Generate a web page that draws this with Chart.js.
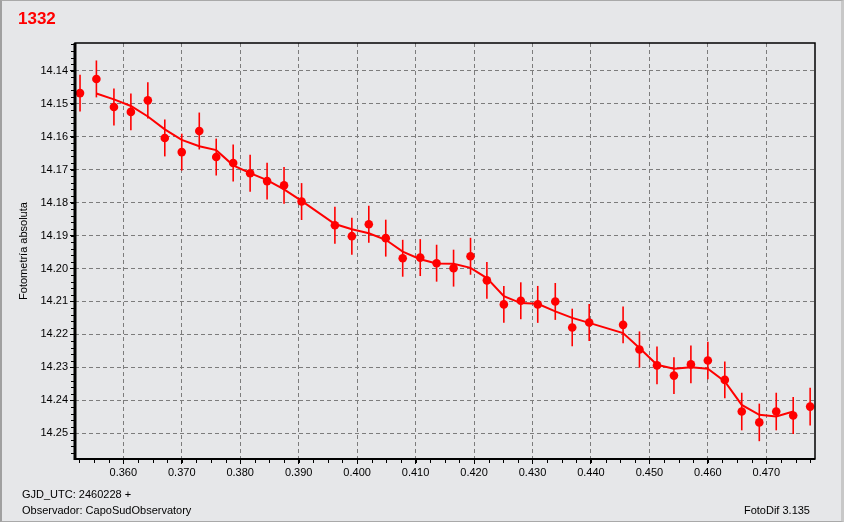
<!DOCTYPE html>
<html>
<head>
<meta charset="utf-8">
<script src="https://cdn.jsdelivr.net/npm/chart.js@4/dist/chart.umd.min.js"></script>
<style>
  html, body { margin: 0; padding: 0; background: #e6e7e9; }
  #wrap { position: relative; width: 844px; height: 522px; overflow: hidden; font-family: "Liberation Sans", Arial, sans-serif; }
  #chart { position: absolute; left: 0; top: 0; }
  #frame { position: absolute; left: 0; top: 0; width: 844px; height: 522px; box-sizing: border-box;
           border: 1px solid #a9a9a9; border-left: 2px solid #a0a0a0; border-right: 3px solid #c8c8c8; pointer-events: none; }
  .txt { position: absolute; font-size: 11px; color: #000; white-space: nowrap; line-height: 13px; }
  #title { position: absolute; left: 18px; top: 9px; font: bold 17px "Liberation Sans", Arial, sans-serif; color: #ff0000; }
</style>
</head>
<body>
<div id="wrap">
  <canvas id="chart" width="844" height="522"></canvas>
  <div id="frame"></div>
  <div id="title">1332</div>
  <div class="txt" style="left:22px; top:488px;">GJD_UTC: 2460228 +</div>
  <div class="txt" style="left:22px; top:504px;">Observador: CapoSudObservatory</div>
  <div class="txt" style="right:34px; top:504px;">FotoDif 3.135</div>
</div>
<script>
// observations (GJD - 2460228, magnitude, error)
const obsTime = [0.3526, 0.3554, 0.3584, 0.3613, 0.3642, 0.3671, 0.3700, 0.3730, 0.3759, 0.3788,
                 0.3817, 0.3846, 0.3875, 0.3905, 0.3962, 0.3991, 0.4020, 0.4049, 0.4078, 0.4108,
                 0.4136, 0.4165, 0.4194, 0.4222, 0.4251, 0.4280, 0.4309, 0.4339, 0.4368, 0.4397,
                 0.4455, 0.4483, 0.4513, 0.4542, 0.4571, 0.4600, 0.4629, 0.4658, 0.4688, 0.4717,
                 0.4746, 0.4775];
const obsMag = [14.1468, 14.1425, 14.1510, 14.1525, 14.1490, 14.1604, 14.1647, 14.1583, 14.1662, 14.1680,
                14.1711, 14.1735, 14.1748, 14.1797, 14.1869, 14.1902, 14.1866, 14.1908, 14.1969, 14.1967,
                14.1984, 14.1999, 14.1963, 14.2036, 14.2109, 14.2098, 14.2109, 14.2100, 14.2179, 14.2164,
                14.2171, 14.2246, 14.2294, 14.2325, 14.2291, 14.2279, 14.2338, 14.2434, 14.2467, 14.2434,
                14.2446, 14.2419];
const obsErr = [0.0056, 0.0056, 0.0056, 0.0056, 0.0055, 0.0056, 0.0056, 0.0056, 0.0056, 0.0056,
                0.0056, 0.0056, 0.0056, 0.0056, 0.0056, 0.0056, 0.0056, 0.0056, 0.0056, 0.0056,
                0.0056, 0.0056, 0.0056, 0.0056, 0.0056, 0.0056, 0.0056, 0.0056, 0.0057, 0.0056,
                0.0056, 0.0055, 0.0057, 0.0056, 0.0057, 0.0057, 0.0056, 0.0057, 0.0057, 0.0057,
                0.0056, 0.0057];

// smoothed fit curve
const fitTime = [0.3554, 0.3584, 0.3613, 0.3642, 0.3671, 0.3700, 0.3730, 0.3759, 0.3788, 0.3817,
                 0.3846, 0.3875, 0.3905, 0.3962, 0.3991, 0.4020, 0.4049, 0.4078, 0.4108, 0.4136,
                 0.4165, 0.4194, 0.4222, 0.4251, 0.4280, 0.4309, 0.4339, 0.4368, 0.4397, 0.4455,
                 0.4483, 0.4513, 0.4542, 0.4571, 0.4600, 0.4629, 0.4658, 0.4688, 0.4717, 0.4746];
const fitMag = [14.1469, 14.1487, 14.1507, 14.1539, 14.1578, 14.1610, 14.1629, 14.1641, 14.1687, 14.1711,
                14.1732, 14.1760, 14.1795, 14.1865, 14.1881, 14.1893, 14.1913, 14.1949, 14.1972, 14.1985,
                14.1986, 14.1998, 14.2029, 14.2084, 14.2105, 14.2107, 14.2130, 14.2150, 14.2165, 14.2196,
                14.2241, 14.2292, 14.2304, 14.2300, 14.2304, 14.2343, 14.2414, 14.2444, 14.2449, 14.2434];

// axes
const xTicks = [0.36, 0.37, 0.38, 0.39, 0.40, 0.41, 0.42, 0.43, 0.44, 0.45, 0.46, 0.47];
const xTickLabels = ['0.360', '0.370', '0.380', '0.390', '0.400', '0.410', '0.420', '0.430', '0.440', '0.450', '0.460', '0.470'];
const yTicks = [14.14, 14.15, 14.16, 14.17, 14.18, 14.19, 14.20, 14.21, 14.22, 14.23, 14.24, 14.25];
const yTickLabels = ['14.14', '14.15', '14.16', '14.17', '14.18', '14.19', '14.20', '14.21', '14.22', '14.23', '14.24', '14.25'];
const X_MIN = 0.35174, X_MAX = 0.47833;
const Y_MIN = 14.1316, Y_MAX = 14.2578;
const X_MINOR = 0.0025, Y_MINOR = 0.002;

const RED = '#ff0000';
const tickFont = { family: '"Liberation Sans", Arial, sans-serif', size: 11 };

// error bars under the markers
const errorBars = {
  id: 'errorBars',
  beforeDatasetsDraw(chart) {
    const { ctx, scales: { x, y } } = chart;
    ctx.save();
    ctx.strokeStyle = RED;
    ctx.lineWidth = 1.6;
    obsTime.forEach((t, i) => {
      const px = x.getPixelForValue(t);
      ctx.beginPath();
      ctx.moveTo(px, y.getPixelForValue(obsMag[i] - obsErr[i]));
      ctx.lineTo(px, y.getPixelForValue(obsMag[i] + obsErr[i]));
      ctx.stroke();
    });
    ctx.restore();
  }
};

// plot frame + minor ticks
const frame = {
  id: 'frame',
  afterDraw(chart) {
    const { ctx, chartArea: a, scales: { x, y } } = chart;
    ctx.save();
    ctx.strokeStyle = '#000';
    ctx.lineWidth = 1;
    // minor ticks
    ctx.beginPath();
    for (let v = Math.ceil(X_MIN / X_MINOR) * X_MINOR; v < X_MAX; v += X_MINOR) {
      const px = Math.round(x.getPixelForValue(v)) + 0.5;
      ctx.moveTo(px, a.bottom);
      ctx.lineTo(px, a.bottom + 4);
    }
    for (let v = Math.ceil(Y_MIN / Y_MINOR) * Y_MINOR; v < Y_MAX; v += Y_MINOR) {
      const py = Math.round(y.getPixelForValue(v)) + 0.5;
      ctx.moveTo(a.left - 4, py);
      ctx.lineTo(a.left, py);
    }
    ctx.stroke();
    ctx.lineWidth = 1.5;
    ctx.strokeRect(a.left, a.top, a.right - a.left, a.bottom - a.top);
    ctx.lineWidth = 3;
    ctx.beginPath();
    ctx.moveTo(a.left, a.top);
    ctx.lineTo(a.left, a.bottom + 1);
    ctx.stroke();
    ctx.lineWidth = 2;
    ctx.beginPath();
    ctx.moveTo(a.left, a.bottom);
    ctx.lineTo(a.right, a.bottom);
    ctx.stroke();
    ctx.restore();
  }
};

new Chart(document.getElementById('chart'), {
  data: {
    datasets: [
      {
        type: 'line',
        data: fitTime.map((t, i) => ({ x: t, y: fitMag[i] })),
        borderColor: RED,
        borderWidth: 2,
        pointRadius: 0,
        tension: 0,
        fill: false
      },
      {
        type: 'scatter',
        data: obsTime.map((t, i) => ({ x: t, y: obsMag[i] })),
        backgroundColor: RED,
        borderWidth: 0,
        pointRadius: 4.3
      }
    ]
  },
  options: {
    responsive: false,
    animation: false,
    events: [],
    layout: { padding: { left: 0, right: 29, top: 43, bottom: 0 } },
    plugins: { legend: { display: false }, tooltip: { enabled: false } },
    scales: {
      x: {
        type: 'linear',
        min: X_MIN,
        max: X_MAX,
        afterBuildTicks: s => { s.ticks = xTicks.map(v => ({ value: v })); },
        afterFit: s => { s.height = 63; },
        ticks: {
          callback: (v, i) => xTickLabels[i],
          font: tickFont,
          color: '#000',
          padding: 2,
          maxRotation: 0,
          autoSkip: false
        },
        grid: { color: '#7c7c7c', lineWidth: 1, tickLength: 5, tickColor: '#000', tickBorderDash: [] },
        border: { display: false, dash: [4, 3] }
      },
      y: {
        type: 'linear',
        reverse: true,
        min: Y_MIN,
        max: Y_MAX,
        afterBuildTicks: s => { s.ticks = yTicks.map(v => ({ value: v })); },
        afterFit: s => { s.width = 75; },
        ticks: {
          callback: (v, i) => yTickLabels[i],
          font: tickFont,
          color: '#000',
          padding: 2,
          autoSkip: false
        },
        grid: { color: '#7c7c7c', lineWidth: 1, tickLength: 5, tickColor: '#000', tickBorderDash: [] },
        border: { display: false, dash: [4, 3] },
        title: {
          display: true,
          text: 'Fotometría absoluta',
          font: tickFont,
          color: '#000',
          padding: { top: 17, bottom: 0 }
        }
      }
    }
  },
  plugins: [errorBars, frame]
});
</script>
</body>
</html>
